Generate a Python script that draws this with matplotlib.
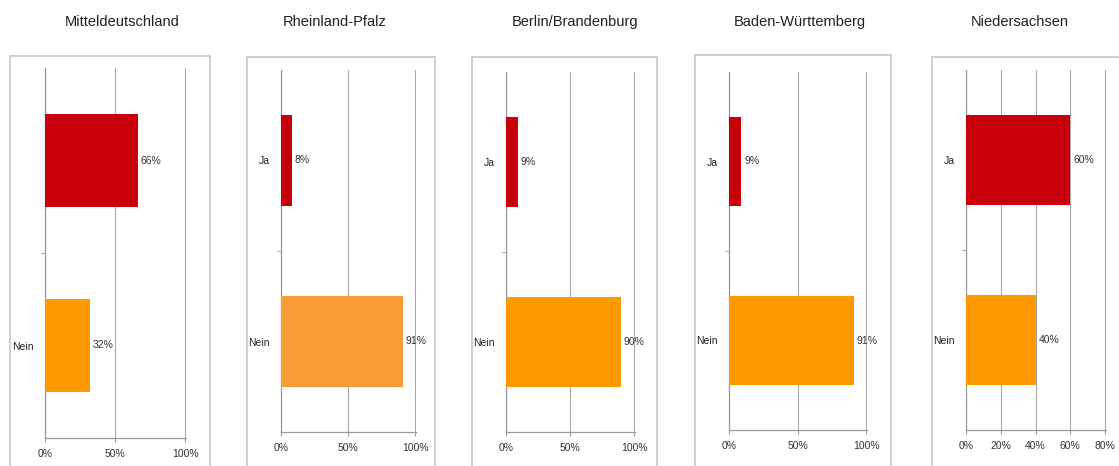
import matplotlib.pyplot as plt
from matplotlib.patches import Rectangle

plt.rcParams['font.family'] = ['Liberation Sans', 'DejaVu Sans']

regions = ['Mitteldeutschland', 'Rheinland-Pfalz', 'Berlin/Brandenburg',
           'Baden-Württemberg', 'Niedersachsen']
answers = ['Ja', 'Nein']
ja_values = [66, 8, 9, 9, 60]
nein_values = [32, 91, 90, 91, 40]
x_max = [100, 100, 100, 100, 80]
x_ticks = [[0, 50, 100], [0, 50, 100], [0, 50, 100], [0, 50, 100],
           [0, 20, 40, 60, 80]]
show_ja_label = [False, True, True, True, True]

W, H = 1119, 466
# axes boxes in pixels: x at 0%, x at max, top, bottom
ax_px = [(45, 186, 68, 438), (281, 416, 70, 432), (506, 635, 72, 432),
         (729, 867, 72, 430), (966, 1106, 70, 430)]
# panel frames: left, right, top
frame_px = [(10, 210, 56), (247, 435, 57), (472, 657, 57),
            (695, 891, 55), (932, 1130, 57)]
title_x = [122, 335, 575, 800, 1020]

red = '#C8000B'
orange = ['#FF9900', '#FB9B38', '#FF9900', '#FF9900', '#FF9900']

fig = plt.figure(figsize=(W / 100, H / 100), dpi=100)
fig.patch.set_facecolor('white')

for i, name in enumerate(regions):
    fl, fr, ft = frame_px[i]
    fig.patches.append(Rectangle((fl / W, -0.05), (fr - fl) / W, 1.05 - ft / H,
                                 transform=fig.transFigure, fill=False,
                                 edgecolor='#C8C8C8', linewidth=1.2))
    fig.text(title_x[i] / W, 1 - 22 / H, name, ha='center', va='center',
             fontsize=10.5, color='#222222')

    x0, x1, yt, yb = ax_px[i]
    ax = fig.add_axes([x0 / W, 1 - yb / H, (x1 - x0) / W, (yb - yt) / H])
    vals = [ja_values[i], nein_values[i]]
    ax.barh([0, 1], vals, height=0.5, color=[red, orange[i]], zorder=3)
    for y, v in zip([0, 1], vals):
        ax.text(v + x_max[i] * 0.02, y, f'{v}%', va='center', ha='left',
                fontsize=7.5, color='#333333')
    # a little headroom so the last grid line is not clipped
    ax.set_xlim(0, x_max[i] * 1.006)
    ax.set_ylim(1.5, -0.5)
    ax.set_xticks(x_ticks[i])
    ax.set_xticklabels([f'{t}%' for t in x_ticks[i]], fontsize=7.5, color='#333333')
    ax.set_yticks([0, 1])
    labels = answers if show_ja_label[i] else ['', 'Nein']
    ax.set_yticklabels(labels, fontsize=7.5, color='#222222')
    ax.set_yticks([0.5], minor=True)
    ax.tick_params(axis='y', which='major', length=0, pad=8)
    ax.tick_params(axis='y', which='minor', length=3, color='#999999')
    ax.tick_params(axis='x', length=3, color='#999999', pad=5)
    ax.grid(axis='x', color='#A8A8A8', linewidth=0.8, zorder=0)
    for side in ['top', 'right']:
        ax.spines[side].set_visible(False)
    for side in ['left', 'bottom']:
        ax.spines[side].set_color('#999999')
        ax.spines[side].set_linewidth(0.9)

fig.savefig('out.png', dpi=100)
